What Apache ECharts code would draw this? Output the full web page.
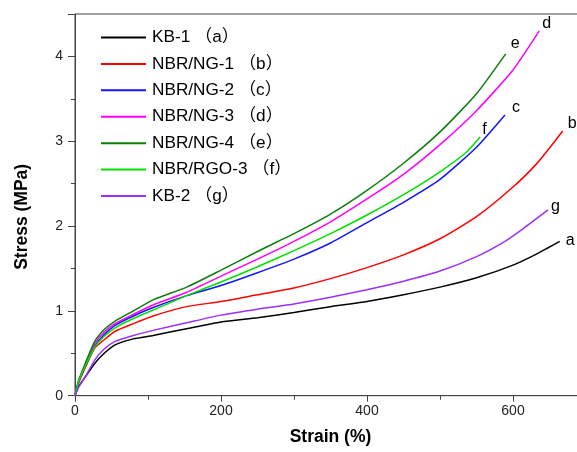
<!DOCTYPE html>
<html>
<head>
<meta charset="utf-8">
<script src="https://cdn.jsdelivr.net/npm/echarts@6/dist/echarts.min.js"></script>
<style>html,body{margin:0;padding:0;background:#fff;}#c{width:577px;height:452px;}</style>
</head>
<body>
<div id="c"></div>
<script>
// Series names and end labels
const seriesNames = ['KB-1 （a）', 'NBR/NG-1 （b）', 'NBR/NG-2 （c）', 'NBR/NG-3 （d）', 'NBR/NG-4 （e）', 'NBR/RGO-3 （f）', 'KB-2 （g）'];
const endLetters = ['a', 'b', 'c', 'd', 'e', 'f', 'g'];
const seriesColors = ['#000000', '#ff0000', '#1515ff', '#ff00ff', '#0a7d0a', '#00e000', '#9b30ff'];
const endLabelOffsets = [[-2, -1], [-3, -7], [-1, -7], [-5, -7], [-3, -10], [-6, -7], [-5, -3]];

// Strain (%) / Stress (MPa) values per series
const strainA = [0, 5, 14, 27, 40, 55, 80, 107, 153, 200, 250, 300, 350, 400, 450, 500, 550, 600, 632, 664];
const stressA = [0, 0.11, 0.22, 0.38, 0.50, 0.60, 0.67, 0.71, 0.79, 0.87, 0.92, 0.98, 1.05, 1.11, 1.19, 1.28, 1.39, 1.54, 1.67, 1.82];

const strainB = [0, 5, 14, 27, 40, 55, 80, 107, 153, 200, 250, 300, 350, 400, 450, 500, 550, 600, 632, 650, 668];
const stressB = [0, 0.15, 0.33, 0.56, 0.66, 0.76, 0.85, 0.94, 1.05, 1.11, 1.19, 1.27, 1.38, 1.51, 1.66, 1.85, 2.11, 2.46, 2.73, 2.92, 3.12];

const strainC = [0, 5, 14, 27, 40, 55, 80, 107, 153, 200, 250, 300, 350, 400, 450, 500, 550, 589];
const stressC = [0, 0.17, 0.35, 0.58, 0.72, 0.83, 0.94, 1.04, 1.18, 1.30, 1.45, 1.61, 1.80, 2.04, 2.28, 2.55, 2.93, 3.31];

const strainD = [0, 5, 14, 27, 40, 55, 80, 107, 153, 200, 250, 300, 350, 400, 450, 500, 550, 600, 636];
const stressD = [0, 0.17, 0.36, 0.61, 0.75, 0.85, 0.96, 1.07, 1.22, 1.41, 1.61, 1.82, 2.05, 2.32, 2.61, 2.96, 3.36, 3.84, 4.30];

const strainE = [0, 5, 14, 27, 40, 55, 80, 107, 153, 200, 250, 300, 350, 400, 450, 500, 550, 590];
const stressE = [0, 0.18, 0.38, 0.64, 0.78, 0.88, 1.00, 1.13, 1.28, 1.48, 1.70, 1.91, 2.14, 2.42, 2.74, 3.11, 3.56, 4.03];

const strainF = [0, 5, 14, 27, 40, 55, 80, 107, 153, 200, 250, 300, 350, 400, 450, 500, 536, 555];
const stressF = [0, 0.17, 0.35, 0.57, 0.70, 0.80, 0.91, 1.01, 1.18, 1.34, 1.52, 1.71, 1.91, 2.13, 2.37, 2.64, 2.87, 3.05];

const strainG = [0, 5, 14, 27, 40, 55, 80, 107, 153, 200, 250, 300, 350, 400, 450, 500, 550, 589, 614, 648];
const stressG = [0, 0.10, 0.22, 0.42, 0.55, 0.64, 0.71, 0.77, 0.86, 0.95, 1.02, 1.08, 1.16, 1.25, 1.35, 1.47, 1.64, 1.82, 1.97, 2.19];

const strains = [strainA, strainB, strainC, strainD, strainE, strainF, strainG];
const stresses = [stressA, stressB, stressC, stressD, stressE, stressF, stressG];

const xTicks = [0, 200, 400, 600];
const yTicks = [0, 1, 2, 3, 4];

const FONT = '"Liberation Sans", Arial, "Noto Sans CJK SC", sans-serif';

const chart = echarts.init(document.getElementById('c'), null, {renderer: 'canvas'});

const series = seriesNames.map((name, i) => ({
  name: name,
  type: 'line',
  data: strains[i].map((x, k) => [x, stresses[i][k]]),
  symbol: 'none',
  smooth: 0.2,
  lineStyle: {color: seriesColors[i], width: 1.5},
  itemStyle: {color: seriesColors[i]},
  endLabel: {
    show: true,
    formatter: endLetters[i],
    color: '#000',
    fontFamily: FONT,
    fontSize: 16,
    offset: endLabelOffsets[i]
  },
  emphasis: {disabled: true},
  z: 2 + i
}));

chart.setOption({
  animation: false,
  backgroundColor: '#ffffff',
  grid: {left: 75, top: 14, width: 511, height: 381.7, outerBoundsMode: 'none', containLabel: false,
    show: true, borderColor: '#444', borderWidth: 1, backgroundColor: 'transparent'},
  legend: {
    orient: 'vertical',
    left: 100,
    top: 29,
    padding: 0,
    itemWidth: 45,
    itemHeight: 14,
    itemGap: 9.2,
    itemStyle: {opacity: 0},
    textStyle: {fontFamily: FONT, fontSize: 17.2, lineHeight: 14, color: '#000', padding: [0, 0, 0, 1]},
    data: seriesNames
  },
  xAxis: {
    type: 'value',
    min: 0,
    max: 700,
    interval: 200,
    name: 'Strain (%)',
    nameLocation: 'middle',
    nameGap: 33,
    nameTextStyle: {fontFamily: FONT, fontWeight: 'bold', fontSize: 17.5, color: '#000'},
    axisLine: {show: true, lineStyle: {color: '#444', width: 1}},
    axisTick: {show: true, inside: false, length: 6, lineStyle: {color: '#444'}},
    minorTick: {show: true, splitNumber: 2, length: 4, lineStyle: {color: '#444'}},
    splitLine: {show: false},
    axisLabel: {fontFamily: FONT, fontSize: 14, color: '#222', margin: 8,
      formatter: v => (xTicks.indexOf(v) >= 0 ? String(v) : '')}
  },
  yAxis: {
    type: 'value',
    min: 0,
    max: 4.5,
    interval: 1,
    name: 'Stress (MPa)',
    nameLocation: 'middle',
    nameGap: 44,
    nameRotate: 90,
    nameTextStyle: {fontFamily: FONT, fontWeight: 'bold', fontSize: 17.5, color: '#000', padding: [0, 24, 0, 0]},
    axisLine: {show: true, lineStyle: {color: '#444', width: 1}},
    axisTick: {show: true, inside: false, length: 7, lineStyle: {color: '#444'}},
    minorTick: {show: true, splitNumber: 2, length: 4, lineStyle: {color: '#444'}},
    splitLine: {show: false},
    axisLabel: {fontFamily: FONT, fontSize: 14, color: '#222', margin: 12,
      formatter: v => (yTicks.indexOf(v) >= 0 ? String(v) : '')}
  },
  series: series
});
</script>
</body>
</html>
